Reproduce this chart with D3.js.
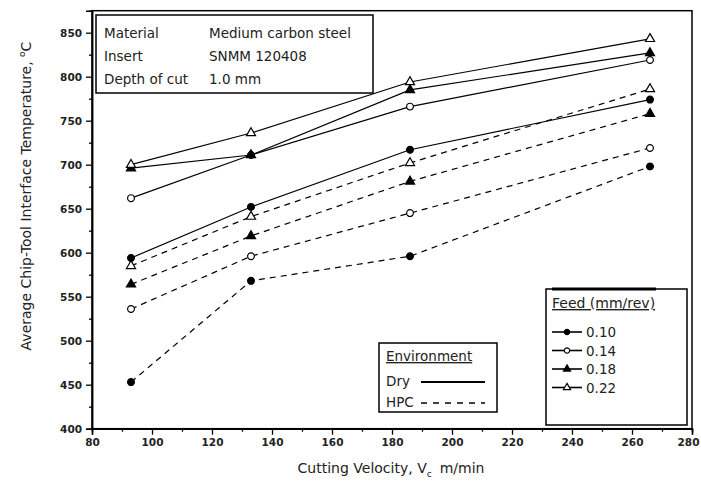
<!DOCTYPE html>
<html>
<head>
<meta charset="utf-8">
<script src="https://cdn.jsdelivr.net/npm/d3@7"></script>
<style>
    body { margin: 0; background: #fff; }
    svg { font-family: 'DejaVu Sans', Verdana, sans-serif; }
</style>
</head>
<body>
<svg id="chart"></svg>
<script>
const width = 701;
const height = 483;

// cutting velocity, m/min
const velocity = [93, 133, 186, 266];
const feeds = ['0.10', '0.14', '0.18', '0.22'];
const environments = ['Dry', 'HPC'];

// temperature, deg C (dry)
const dry010 = [594, 652, 717, 774];
const dry014 = [662, 711, 766, 819];
const dry018 = [696, 711, 785, 827];
const dry022 = [700, 736, 794, 843];

// temperature, deg C (HPC)
const hpc010 = [453, 568, 596, 698];
const hpc014 = [536, 596, 645, 719];
const hpc018 = [564, 619, 681, 758];
const hpc022 = [585, 641, 702, 786];

const xTicks = [80, 100, 120, 140, 160, 180, 200, 220, 240, 260, 280];
const yTicks = [400, 450, 500, 550, 600, 650, 700, 750, 800, 850];

const infoRows = [
    ['Material', 'Medium carbon steel'],
    ['Insert', 'SNMM 120408'],
    ['Depth of cut', '1.0 mm']
];

const series = [
    { env: 'Dry', feed: 0, values: dry010 },
    { env: 'Dry', feed: 1, values: dry014 },
    { env: 'Dry', feed: 2, values: dry018 },
    { env: 'Dry', feed: 3, values: dry022 },
    { env: 'HPC', feed: 0, values: hpc010 },
    { env: 'HPC', feed: 1, values: hpc014 },
    { env: 'HPC', feed: 2, values: hpc018 },
    { env: 'HPC', feed: 3, values: hpc022 }
];

const svg = d3.select('#chart')
    .attr('width', width)
    .attr('height', height);

const x = d3.scaleLinear().domain([80, 280]).range([92, 692]);
const y = d3.scaleLinear().domain([400, 875]).range([428.7, 10.7]);

// frame
svg.append('rect')
    .attr('x', x(80)).attr('y', y(875))
    .attr('width', x(280) - x(80)).attr('height', y(400) - y(875))
    .attr('fill', 'none').attr('stroke', '#000').attr('stroke-width', 1.5);

// axes
const xAxis = svg.append('g')
    .attr('transform', `translate(0, ${y(400)})`)
    .call(d3.axisBottom(x).tickValues(xTicks).tickSize(6).tickPadding(4).tickFormat(d3.format('d')));
const xMinor = svg.append('g')
    .attr('transform', `translate(0, ${y(400)})`)
    .call(d3.axisBottom(x).tickValues(d3.range(90, 280, 20)).tickSize(3).tickFormat(''));

const yAxis = svg.append('g')
    .attr('transform', `translate(${x(80)}, 0)`)
    .call(d3.axisLeft(y).tickValues(yTicks).tickSize(6).tickPadding(4));
const yMinor = svg.append('g')
    .attr('transform', `translate(${x(80)}, 0)`)
    .call(d3.axisLeft(y).tickValues(d3.range(425, 875, 50)).tickSize(3).tickFormat(''));

[xAxis, xMinor, yAxis, yMinor].forEach(a => {
    a.select('.domain').attr('stroke-width', 1.5);
    a.selectAll('.tick line').attr('stroke-width', 1.3);
    a.selectAll('text')
        .attr('font-family', "'DejaVu Sans', sans-serif")
        .attr('font-size', 10.5)
        .attr('font-weight', 'bold')
        .attr('fill', '#222');
});

// last label sits on the window edge, pull it in a little
xAxis.selectAll('.tick text').filter(d => d === 280).attr('dx', -4);

// axis titles
svg.append('text')
    .attr('x', 391).attr('y', 473)
    .attr('text-anchor', 'middle')
    .attr('font-size', 14)
    .attr('fill', '#222')
    .html('Cutting Velocity, V<tspan font-size="9" dy="4">c</tspan><tspan dy="-4" dx="8">m/min</tspan>');

svg.append('text')
    .attr('transform', 'translate(31, 196) rotate(-90)')
    .attr('text-anchor', 'middle')
    .attr('font-size', 14)
    .attr('fill', '#222')
    .html('Average Chip-Tool Interface Temperature, <tspan font-size="9" dy="-6">o</tspan><tspan dy="6">C</tspan>');

// lines
const line = d3.line()
    .x((d, i) => x(velocity[i]))
    .y(d => y(d));

svg.selectAll('.series').data(series)
    .enter()
    .append('path')
    .attr('class', 'series')
    .attr('d', d => line(d.values))
    .attr('fill', 'none')
    .attr('stroke', '#000')
    .attr('stroke-width', 1.2)
    .attr('stroke-dasharray', d => d.env === 'HPC' ? '6,5' : null);

// markers: filled circle, open circle, filled triangle, open triangle
const symbolTypes = [d3.symbolCircle, d3.symbolCircle, d3.symbolTriangle, d3.symbolTriangle];
const symbolFill = ['#000', '#fff', '#000', '#fff'];

function marker(sel, feed, size) {
    sel.attr('d', d3.symbol().type(symbolTypes[feed]).size(size))
        .attr('fill', symbolFill[feed])
        .attr('stroke', '#000')
        .attr('stroke-width', 1.2);
}

series.forEach(s => {
    svg.selectAll(null).data(s.values)
        .enter()
        .append('path')
        .attr('transform', (d, i) => `translate(${x(velocity[i])}, ${y(d)})`)
        .call(marker, s.feed, 36);
});

// info box
const info = svg.append('g');
info.append('rect')
    .attr('x', 96).attr('y', 15)
    .attr('width', 277).attr('height', 78)
    .attr('fill', '#fff').attr('stroke', '#000').attr('stroke-width', 1.5);
info.selectAll('.lab').data(infoRows)
    .enter()
    .append('text')
    .attr('x', 104).attr('y', (d, i) => 38 + i * 23)
    .attr('font-size', 13.5)
    .attr('fill', '#222')
    .text(d => d[0]);
info.selectAll('.val').data(infoRows)
    .enter()
    .append('text')
    .attr('x', 209).attr('y', (d, i) => 38 + i * 23)
    .attr('font-size', 13.5)
    .attr('fill', '#222')
    .text(d => d[1]);

// environment legend
const env = svg.append('g');
env.append('rect')
    .attr('x', 379).attr('y', 343)
    .attr('width', 118).attr('height', 69)
    .attr('fill', '#fff').attr('stroke', '#000').attr('stroke-width', 1.5);
env.append('text')
    .attr('x', 386).attr('y', 361)
    .attr('font-size', 13.5)
    .attr('fill', '#222')
    .attr('text-decoration', 'underline')
    .text('Environment');
environments.forEach((e, i) => {
    env.append('text')
        .attr('x', 386).attr('y', 386 + i * 21)
        .attr('font-size', 13.5)
        .attr('fill', '#222')
        .text(e);
    env.append('line')
        .attr('x1', 421).attr('x2', 485)
        .attr('y1', 382 + i * 21).attr('y2', 382 + i * 21)
        .attr('stroke', '#000')
        .attr('stroke-width', i === 0 ? 2.2 : 1.6)
        .attr('stroke-dasharray', i === 0 ? null : '6,6');
});

// feed legend
const feedLeg = svg.append('g');
feedLeg.append('rect')
    .attr('x', 546).attr('y', 289)
    .attr('width', 141).attr('height', 136)
    .attr('fill', '#fff').attr('stroke', '#000').attr('stroke-width', 1.5);
feedLeg.append('line')
    .attr('x1', 552).attr('x2', 656)
    .attr('y1', 289).attr('y2', 289)
    .attr('stroke', '#000').attr('stroke-width', 3);
feedLeg.append('text')
    .attr('x', 552).attr('y', 308)
    .attr('font-size', 14)
    .attr('fill', '#222')
    .attr('text-decoration', 'underline')
    .text('Feed (mm/rev)');
feeds.forEach((f, i) => {
    const ly = 332 + i * 18.5;
    feedLeg.append('line')
        .attr('x1', 552).attr('x2', 582)
        .attr('y1', ly).attr('y2', ly)
        .attr('stroke', '#000').attr('stroke-width', 1.6);
    feedLeg.append('path')
        .attr('transform', `translate(567, ${ly})`)
        .call(marker, i, 22);
    feedLeg.append('text')
        .attr('x', 586).attr('y', ly + 5)
        .attr('font-size', 13.5)
        .attr('fill', '#222')
        .text(f);
});
</script>
</body>
</html>
